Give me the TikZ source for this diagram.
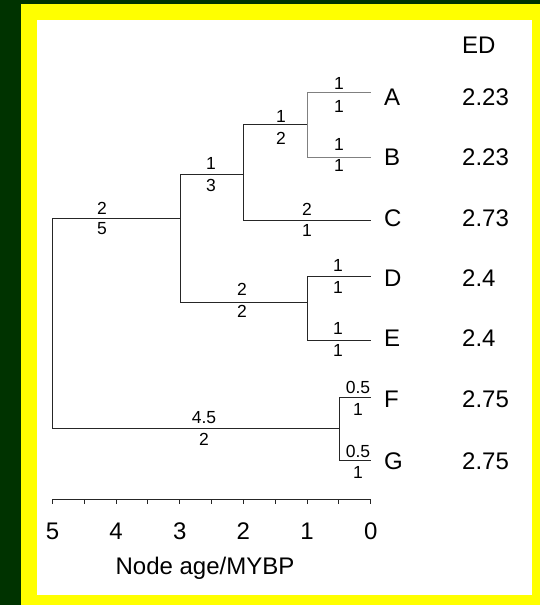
\documentclass[tikz,border=0pt]{standalone}
\usepackage{fontspec}
\setmainfont{Liberation Sans}
\definecolor{bgdark}{RGB}{0,51,0}
\definecolor{frameyel}{RGB}{255,255,0}
\begin{document}
\begin{tikzpicture}[x=1pt,y=-1pt,
  branch/.style={line width=1pt,draw=black!85},
  lightbranch/.style={line width=1pt,draw=black!50},
  bl/.style={inner sep=0pt,font=\fontsize{17.5}{17.5}\selectfont},
  tip/.style={inner sep=0pt,anchor=west,font=\fontsize{24}{24}\selectfont},
  edval/.style={inner sep=0pt,anchor=west,font=\fontsize{24}{24}\selectfont},
  ticklab/.style={inner sep=0pt,font=\fontsize{24}{24}\selectfont}]
% background and frame
\useasboundingbox (0,0) rectangle (540,605);
\fill[bgdark] (0,0) rectangle (540,605);
\fill[frameyel] (20.5,4) rectangle (540,605);
\fill[white] (37,20) rectangle (532,595);
% internal nodes
\coordinate (root) at (52.5,300);
\coordinate (n1) at (180,218);
\coordinate (n2) at (243.5,174);
\coordinate (n3) at (307,124);
\coordinate (n4) at (307,302);
\coordinate (n5) at (339,428);
% tips
\coordinate (tA) at (370.7,92);
\coordinate (tB) at (370.7,157);
\coordinate (tC) at (370.7,220);
\coordinate (tD) at (370.7,276);
\coordinate (tE) at (370.7,340);
\coordinate (tF) at (370.7,397);
\coordinate (tG) at (370.7,460);
% branches
\draw[branch] (root) |- (n1);
\draw[branch] (root) |- (n5);
\draw[branch] (n1) |- (n2);
\draw[branch] (n1) |- (n4);
\draw[branch] (n2) |- (n3);
\draw[branch] (n2) |- (tC);
\draw[lightbranch] (n3) |- (tA);
\draw[lightbranch] (n3) |- (tB);
\draw[branch] (n4) |- (tD);
\draw[branch] (n4) |- (tE);
\draw[branch] (n5) |- (tF);
\draw[branch] (n5) |- (tG);
% branch labels
\node[bl] (b1a) at (102,208) {2};   \node[bl] (b1b) at (102,229) {5};
\node[bl] (b2a) at (211,163) {1};   \node[bl] (b2b) at (211,185) {3};
\node[bl] (b3a) at (281,116) {1};   \node[bl] (b3b) at (281,138) {2};
\node[bl] (bAa) at (339,83) {1};    \node[bl] (bAb) at (339,106) {1};
\node[bl] (bBa) at (339,144) {1};   \node[bl] (bBb) at (339,165) {1};
\node[bl] (bCa) at (307,209) {2};   \node[bl] (bCb) at (307,230) {1};
\node[bl] (b4a) at (242,289) {2};   \node[bl] (b4b) at (242,311.5) {2};
\node[bl] (bDa) at (338,265) {1};   \node[bl] (bDb) at (338,287) {1};
\node[bl] (bEa) at (338,328) {1};   \node[bl] (bEb) at (338,350) {1};
\node[bl] (b5a) at (204,418) {4.5}; \node[bl] (b5b) at (204,439) {2};
\node[bl] (bFa) at (358,387) {0.5}; \node[bl] (bFb) at (358,409) {1};
\node[bl] (bGa) at (358,451.5) {0.5}; \node[bl] (bGb) at (358,472) {1};
% tip labels
\node[tip] (lA) at (384,97) {A};
\node[tip] (lB) at (384,157) {B};
\node[tip] (lC) at (384,218) {C};
\node[tip] (lD) at (384,278) {D};
\node[tip] (lE) at (384,338) {E};
\node[tip] (lF) at (384,399) {F};
\node[tip] (lG) at (384,461) {G};
% ED column
\node[edval] (edh) at (462,45) {ED};
\node[edval] (eA) at (462,97) {2.23};
\node[edval] (eB) at (462,157) {2.23};
\node[edval] (eC) at (462,218) {2.73};
\node[edval] (eD) at (462,278) {2.4};
\node[edval] (eE) at (462,338) {2.4};
\node[edval] (eF) at (462,399) {2.75};
\node[edval] (eG) at (462,461) {2.75};
% axis
\coordinate (ax0) at (52.5,499);
\coordinate (ax1) at (370.7,499);
\draw[branch] (ax0) -- (ax1);
\foreach \i in {0,...,10}{
  \draw[branch] (52.5+31.82*\i,499) -- ++(0,5);
}
\foreach \v [count=\k from 0] in {5,4,3,2,1,0}{
  \node[ticklab] (tk\v) at (52.5+63.64*\k,531) {\v};
}
\node[ticklab] (axlab) at (205,568) {Node age/MYBP};
\end{tikzpicture}
\end{document}
